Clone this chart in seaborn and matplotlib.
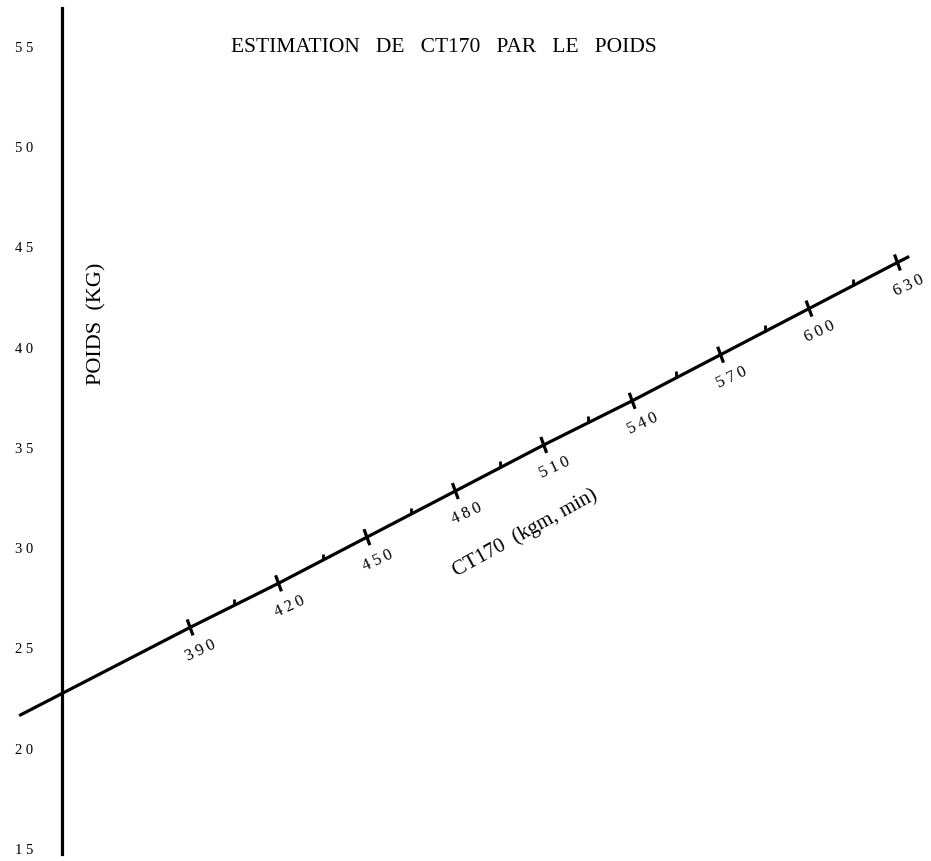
import numpy as np
import matplotlib
matplotlib.use("Agg")
import matplotlib.pyplot as plt
import seaborn as sns

ct_major = [390, 420, 450, 480, 510, 540, 570, 600, 630]
poids_major = [26.3, 28.5, 30.8, 33.1, 35.4, 37.6, 39.9, 42.2, 44.5]
ct_minor = [405, 435, 465, 495, 525, 555, 585, 615]
# extrémités du trait
ct_ends = [332, 634]
poids_ends = [21.9, 44.8]
poids_ticks = [15, 20, 25, 30, 35, 40, 45, 50, 55]

sns.set_style("white")
plt.rcParams['font.family'] = ['Liberation Serif', 'DejaVu Serif']
plt.rcParams['text.color'] = 'black'

fig = plt.figure(figsize=(9.31, 8.61), dpi=100)
ax = fig.add_axes([0, 0, 1, 1])
xmin, xmax = 325.5, 641.4
ymin, ymax = 14.65, 57.59
ax.set_xlim(xmin, xmax)
ax.set_ylim(ymin, ymax)

# pixels par unité
px_x = 931 / (xmax - xmin)
px_y = 861 / (ymax - ymin)

line_ct = [ct_ends[0]] + ct_major + [ct_ends[1]]
line_p = [poids_ends[0]] + poids_major + [poids_ends[1]]
sns.lineplot(x=line_ct, y=line_p, ax=ax, color='black', lw=2.3, estimator=None,
             solid_capstyle='butt')

# graduations principales (traversent le trait)
ang = np.deg2rad(20)
hl = 8.5
thin = "\u2009"
for c, p in zip(ct_major, poids_major):
    dx = -np.sin(ang) * hl / px_x
    dy = np.cos(ang) * hl / px_y
    ax.plot([c - dx, c + dx], [p - dy, p + dy], color='black', lw=2.3,
            solid_capstyle='butt')
    ax.annotate(thin.join(str(c)), (c, p), xytext=(7.9, -16.6),
                textcoords='offset points', rotation=25, ha='center', va='center',
                rotation_mode='anchor', fontsize=12)

# petites graduations (au-dessus du trait)
poids_minor = np.interp(ct_minor, ct_major, poids_major)
for c, p in zip(ct_minor, poids_minor):
    ax.plot([c, c], [p, p + 6.5 / px_y], color='black', lw=2.0, solid_capstyle='butt')

# axe des poids
for s in ['top', 'right', 'bottom']:
    ax.spines[s].set_visible(False)
ax.spines['left'].set_position(('data', 346.6))
ax.spines['left'].set_bounds(15, 57.2)
ax.spines['left'].set_linewidth(2.3)
ax.spines['left'].set_color('black')
ax.set_xticks([])
ax.set_yticks(poids_ticks)
ax.set_yticklabels([" ".join(str(t)) for t in poids_ticks])
ax.tick_params(axis='y', direction='in', length=6, width=2.2, pad=21,
               labelsize=10.5, colors='black')
for lab in ax.get_yticklabels():
    lab.set_verticalalignment('baseline')
ax.set_facecolor('white')

fig.text(444 / 931, 1 - 47 / 861, "ESTIMATION   DE   CT170   PAR   LE   POIDS",
         ha='center', va='center', fontsize=15.5)
fig.text(97 / 931, 1 - 324 / 861, "POIDS  (KG)", rotation=90,
         ha='center', va='center', fontsize=16)
fig.text(525 / 931, 1 - 533 / 861, "CT170  (kgm, min)", rotation=29,
         ha='center', va='center', fontsize=15, rotation_mode='anchor')

fig.savefig("out.png", dpi=100, facecolor='white')
